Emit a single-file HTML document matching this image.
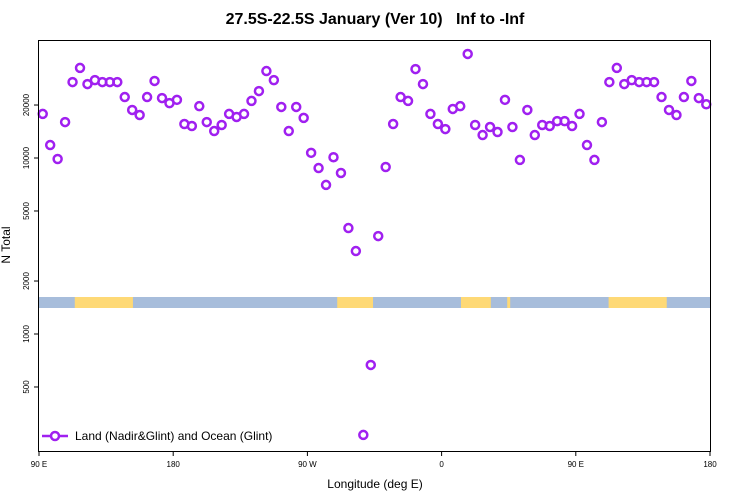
<!DOCTYPE html>
<html><head><meta charset="utf-8"><style>body{margin:0;background:#fff}svg{display:block;font-family:"Liberation Sans",sans-serif}</style></head>
<body>
<svg id="chart" width="750" height="500" xmlns="http://www.w3.org/2000/svg">
<text x="375" y="24" text-anchor="middle" font-size="16" font-weight="bold" style="white-space:pre" xml:space="preserve">27.5S-22.5S January (Ver 10)   Inf to -Inf</text>
<text transform="translate(10,245) rotate(-90)" text-anchor="middle" font-size="12">N Total</text>
<text x="375" y="488" text-anchor="middle" font-size="12">Longitude (deg E)</text>
<g id="band"></g>
<g id="ticks"></g>
<g id="pts"></g>
<rect x="38.5" y="40.5" width="672" height="411" fill="none" stroke="#000" stroke-width="1"/>
<g>
<line x1="42" y1="436" x2="68" y2="436" stroke="#a020f0" stroke-width="2.5"/>
<circle cx="55" cy="436" r="4" fill="#fff" stroke="#a020f0" stroke-width="2.5"/>
<text x="75" y="440" font-size="12">Land (Nadir&amp;Glint) and Ocean (Glint)</text>
</g>
</svg>
<script>
const values=[17800,11850,9870,16000,27000,32500,26300,27700,27000,27000,27000,22200,18750,17550,22200,27400,21900,20500,21400,15600,15200,19700,16000,14230,15400,17800,17100,17800,21100,24000,31200,27700,19500,14230,19500,16900,10700,8770,7030,10100,8220,4000,2960,267,667,3600,8890,15600,22200,21100,32000,26300,17800,15600,14600,19000,19700,39000,15400,13500,15000,14050,21400,15000,9750,18750,13500,15400,15200,16200,16200,15200,17800,11850,9750,16000,27000,32500,26300,27700,27000,27000,27000,22200,18750,17550,22200,27400,21900,20200];
const lonStart=92.5, lonStep=5;
const yTicks=[500,1000,2000,5000,10000,20000];
const xTicks=[90,180,270,360,450,540];
const xTickLabels=["90 E","180","90 W","0","90 E","180"];
const landSegs=[[114,153],[290,314],[373,393],[404,406],[472,511]];
const NS="http://www.w3.org/2000/svg";
const X=l=>39+(l-90)*671/450;
const Y=v=>334-176*Math.log10(v/1000);
function mk(t,a,p){const e=document.createElementNS(NS,t);for(const k in a)e.setAttribute(k,a[k]);p.appendChild(e);return e;}
const band=document.getElementById('band');
const b=mk('rect',{x:38,y:297,width:672,height:11,fill:'#a7bddb'},band);


landSegs.forEach(s=>{const r=mk('rect',{x:X(s[0]),y:297,width:X(s[1])-X(s[0]),height:11,fill:'#fed976'},band);

});
const tg=document.getElementById('ticks');
yTicks.forEach(v=>{const y=Y(v);mk('line',{x1:34,x2:38,y1:y,y2:y,stroke:'#000'},tg);
const t=mk('text',{transform:`translate(29,${y}) rotate(-90)`,'text-anchor':'middle','font-size':'8'},tg);t.textContent=v;

});
xTicks.forEach((l,i)=>{const x=X(l);mk('line',{x1:x,x2:x,y1:452,y2:456,stroke:'#000'},tg);
const t=mk('text',{x:x,y:467,'text-anchor':'middle','font-size':'8'},tg);t.textContent=xTickLabels[i];

});
const pg=document.getElementById('pts');
values.forEach((v,i)=>{const c=mk('circle',{cx:X(lonStart+i*lonStep),cy:Y(v),r:4,fill:'none',stroke:'#a020f0','stroke-width':2.5},pg);

});
</script>
</body></html>
